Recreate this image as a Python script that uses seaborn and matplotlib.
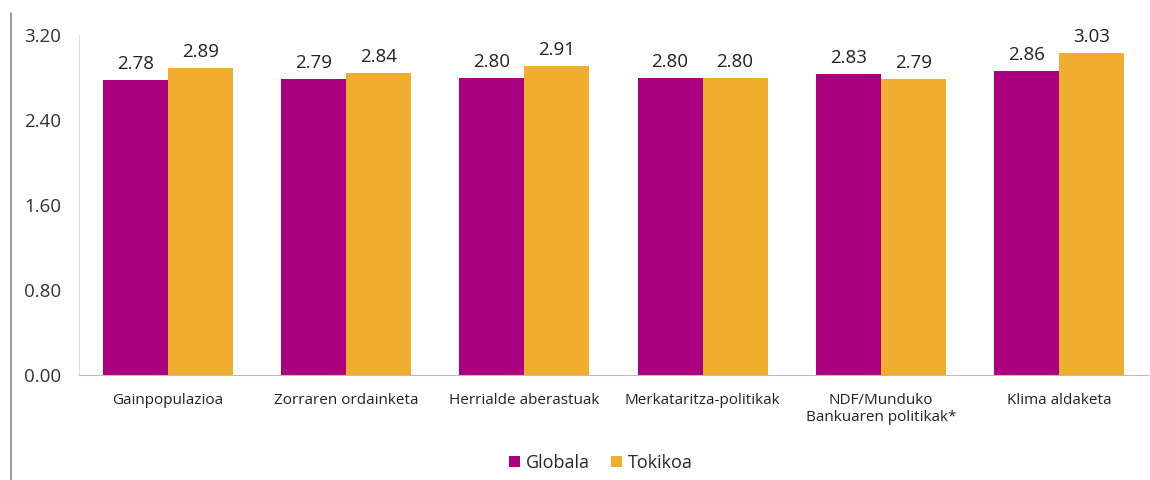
import matplotlib
matplotlib.use("Agg")
import matplotlib.pyplot as plt
from matplotlib.lines import Line2D
import seaborn as sns
import pandas as pd

categories = ["Gainpopulazioa", "Zorraren ordainketa", "Herrialde aberastuak",
              "Merkataritza-politikak", "NDF/Munduko\nBankuaren politikak*", "Klima aldaketa"]
globala = [2.78, 2.79, 2.80, 2.80, 2.83, 2.86]
tokikoa = [2.89, 2.84, 2.91, 2.80, 2.79, 3.03]
series = ["Globala", "Tokikoa"]
yticks = [0.0, 0.8, 1.6, 2.4, 3.2]

df = pd.DataFrame({
    "cat": categories * 2,
    "val": globala + tokikoa,
    "series": [series[0]] * len(categories) + [series[1]] * len(categories),
})

sns.set_style("white")
plt.rcParams["font.family"] = ["Open Sans", "DejaVu Sans"]

fig = plt.figure(figsize=(11.5, 4.8), dpi=100)
ax = fig.add_axes([79 / 1150, 1 - 375 / 480, (1148 - 79) / 1150, (375 - 35) / 480])

palette = {"Globala": "#AA0080", "Tokikoa": "#F0AD2E"}
sns.barplot(data=df, x="cat", y="val", hue="series", palette=palette,
            width=0.73, saturation=1, linewidth=0, ax=ax, legend=True)

for cont in ax.containers:
    ax.bar_label(cont, labels=[f"{v:.2f}" for v in cont.datavalues], padding=5,
                 fontsize=13.5, color="#222222")

ax.set_ylim(0, 3.2)
ax.set_xlim(-0.5, len(categories) - 0.5)
ax.set_yticks(yticks)
ax.set_yticklabels([f"{t:.2f}" for t in yticks], fontsize=13.5, color="#333333")
ax.tick_params(axis="y", pad=13, length=0)
ax.tick_params(axis="x", pad=13, length=0, labelsize=11, labelcolor="#222222")
ax.set_xlabel("")
ax.set_ylabel("")
for s in ["top", "right"]:
    ax.spines[s].set_visible(False)
ax.spines["left"].set_color("#DDDDDD")
ax.spines["bottom"].set_color("#BBBBBB")

ax.legend(loc="center", bbox_to_anchor=(601 / 1150, 1 - 463 / 480), bbox_transform=fig.transFigure,
          ncol=2, frameon=False, fontsize=13, handlelength=0.6, handleheight=0.6,
          handletextpad=0.3, columnspacing=1.2)

fig.add_artist(Line2D([11 / 1150, 11 / 1150], [0, 1 - 13 / 480], transform=fig.transFigure,
                      color="#888888", linewidth=1.2))

fig.savefig("out.png", dpi=100)
